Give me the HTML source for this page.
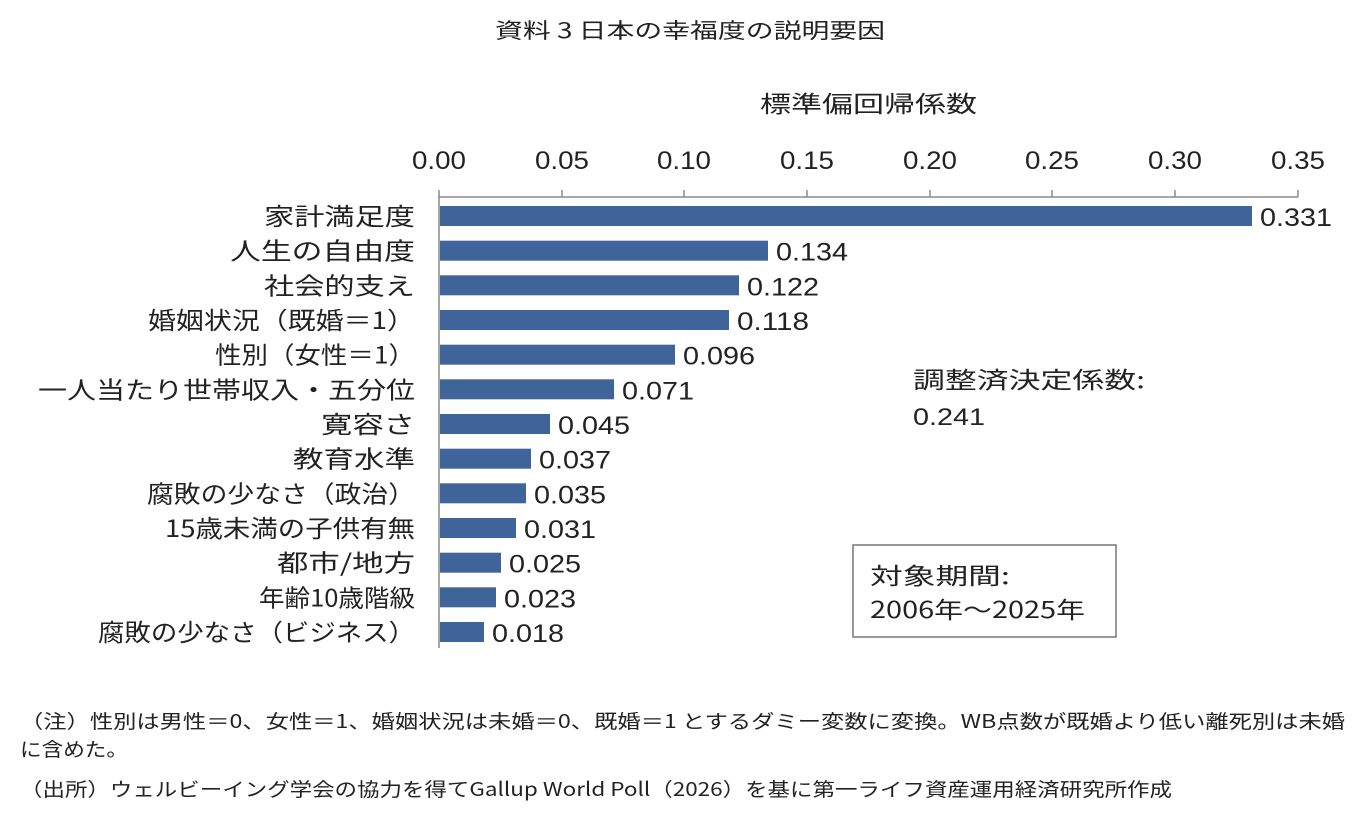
<!DOCTYPE html>
<html><head><meta charset="utf-8"><style>
html,body{margin:0;padding:0;background:#fff;}
svg text{font-family:"Liberation Sans","Noto Sans CJK JP",sans-serif;fill:#222;}
svg text.j{font-family:"Noto Sans CJK JP","Liberation Sans",sans-serif;}
</style></head><body>
<svg width="1357" height="829" viewBox="0 0 1357 829" xmlns="http://www.w3.org/2000/svg">
<text class="j" x="495" y="38" font-size="21" textLength="390" lengthAdjust="spacingAndGlyphs">資料 3  日本の幸福度の説明要因</text>
<text class="j" x="760" y="112" font-size="23" textLength="217" lengthAdjust="spacingAndGlyphs">標準偏回帰係数</text>
<g font-size="25" text-anchor="middle">
<text x="439" y="169" textLength="54" lengthAdjust="spacingAndGlyphs">0.00</text><text x="562" y="169" textLength="54" lengthAdjust="spacingAndGlyphs">0.05</text><text x="684" y="169" textLength="54" lengthAdjust="spacingAndGlyphs">0.10</text><text x="807" y="169" textLength="54" lengthAdjust="spacingAndGlyphs">0.15</text><text x="930" y="169" textLength="54" lengthAdjust="spacingAndGlyphs">0.20</text><text x="1052" y="169" textLength="54" lengthAdjust="spacingAndGlyphs">0.25</text><text x="1175" y="169" textLength="54" lengthAdjust="spacingAndGlyphs">0.30</text><text x="1298" y="169" textLength="54" lengthAdjust="spacingAndGlyphs">0.35</text>
</g>
<g stroke="#8a8a8a" stroke-width="1.5">
<line x1="439" y1="197" x2="1298" y2="197"/>
<line x1="439" y1="190" x2="439" y2="648"/>
<line x1="562" y1="190" x2="562" y2="197"/><line x1="684" y1="190" x2="684" y2="197"/><line x1="807" y1="190" x2="807" y2="197"/><line x1="930" y1="190" x2="930" y2="197"/><line x1="1052" y1="190" x2="1052" y2="197"/><line x1="1175" y1="190" x2="1175" y2="197"/><line x1="1298" y1="190" x2="1298" y2="197"/>
</g>
<g fill="#3f6499">
<rect x="440" y="206" width="812" height="20"/>
<rect x="440" y="240.7" width="328" height="20"/>
<rect x="440" y="275.3" width="299" height="20"/>
<rect x="440" y="310" width="289" height="20"/>
<rect x="440" y="344.7" width="235" height="20"/>
<rect x="440" y="379.3" width="174" height="20"/>
<rect x="440" y="414" width="110" height="20"/>
<rect x="440" y="448.7" width="91" height="20"/>
<rect x="440" y="483.3" width="86" height="20"/>
<rect x="440" y="518" width="76" height="20"/>
<rect x="440" y="552.7" width="61" height="20"/>
<rect x="440" y="587.3" width="56" height="20"/>
<rect x="440" y="622" width="44" height="20"/>
</g>
<g font-size="24">
<text class="j" x="264" y="225" textLength="151" lengthAdjust="spacingAndGlyphs">家計満足度</text>
<text class="j" x="230" y="259.7" textLength="185" lengthAdjust="spacingAndGlyphs">人生の自由度</text>
<text class="j" x="264" y="294.3" textLength="151" lengthAdjust="spacingAndGlyphs">社会的支え</text>
<text class="j" x="148" y="329" textLength="267" lengthAdjust="spacingAndGlyphs">婚姻状況（既婚＝1）</text>
<text class="j" x="215" y="363.7" textLength="200" lengthAdjust="spacingAndGlyphs">性別（女性＝1）</text>
<text class="j" x="38" y="398.3" textLength="377" lengthAdjust="spacingAndGlyphs">一人当たり世帯収入・五分位</text>
<text class="j" x="321" y="433" textLength="94" lengthAdjust="spacingAndGlyphs">寛容さ</text>
<text class="j" x="293" y="467.7" textLength="122" lengthAdjust="spacingAndGlyphs">教育水準</text>
<text class="j" x="147" y="502.3" textLength="268" lengthAdjust="spacingAndGlyphs">腐敗の少なさ（政治）</text>
<text class="j" x="165" y="537" textLength="250" lengthAdjust="spacingAndGlyphs">15歳未満の子供有無</text>
<text class="j" x="277" y="571.7" textLength="138" lengthAdjust="spacingAndGlyphs">都市/地方</text>
<text class="j" x="259" y="606.3" textLength="156" lengthAdjust="spacingAndGlyphs">年齢10歳階級</text>
<text class="j" x="98" y="641" textLength="317" lengthAdjust="spacingAndGlyphs">腐敗の少なさ（ビジネス）</text>
</g>
<g font-size="25">
<text x="1260" y="226" textLength="72" lengthAdjust="spacingAndGlyphs">0.331</text>
<text x="776" y="260.7" textLength="72" lengthAdjust="spacingAndGlyphs">0.134</text>
<text x="747" y="295.3" textLength="72" lengthAdjust="spacingAndGlyphs">0.122</text>
<text x="737" y="330" textLength="72" lengthAdjust="spacingAndGlyphs">0.118</text>
<text x="683" y="364.7" textLength="72" lengthAdjust="spacingAndGlyphs">0.096</text>
<text x="622" y="399.3" textLength="72" lengthAdjust="spacingAndGlyphs">0.071</text>
<text x="558" y="434" textLength="72" lengthAdjust="spacingAndGlyphs">0.045</text>
<text x="539" y="468.7" textLength="72" lengthAdjust="spacingAndGlyphs">0.037</text>
<text x="534" y="503.3" textLength="72" lengthAdjust="spacingAndGlyphs">0.035</text>
<text x="524" y="538" textLength="72" lengthAdjust="spacingAndGlyphs">0.031</text>
<text x="509" y="572.7" textLength="72" lengthAdjust="spacingAndGlyphs">0.025</text>
<text x="504" y="607.3" textLength="72" lengthAdjust="spacingAndGlyphs">0.023</text>
<text x="492" y="642" textLength="72" lengthAdjust="spacingAndGlyphs">0.018</text>
</g>
<text class="j" x="913" y="388" font-size="23" textLength="232" lengthAdjust="spacingAndGlyphs">調整済決定係数:</text>
<text x="913" y="425" font-size="24" textLength="72" lengthAdjust="spacingAndGlyphs">0.241</text>
<rect x="853" y="545" width="263" height="92" fill="none" stroke="#777" stroke-width="1.5"/>
<text class="j" x="870" y="584" font-size="23" textLength="140" lengthAdjust="spacingAndGlyphs">対象期間:</text>
<text class="j" x="870" y="618" font-size="23" textLength="215" lengthAdjust="spacingAndGlyphs">2006年～2025年</text>
<g font-size="19">
<text class="j" x="20" y="728" textLength="1325" lengthAdjust="spacingAndGlyphs">（注）性別は男性＝0、女性＝1、婚姻状況は未婚＝0、既婚＝1 とするダミー変数に変換。WB点数が既婚より低い離死別は未婚</text>
<text class="j" x="20" y="756" textLength="108" lengthAdjust="spacingAndGlyphs">に含めた。</text>
<text class="j" x="20" y="796" textLength="1152" lengthAdjust="spacingAndGlyphs">（出所）ウェルビーイング学会の協力を得てGallup World Poll（2026）を基に第一ライフ資産運用経済研究所作成</text>
</g>
</svg>
</body></html>
